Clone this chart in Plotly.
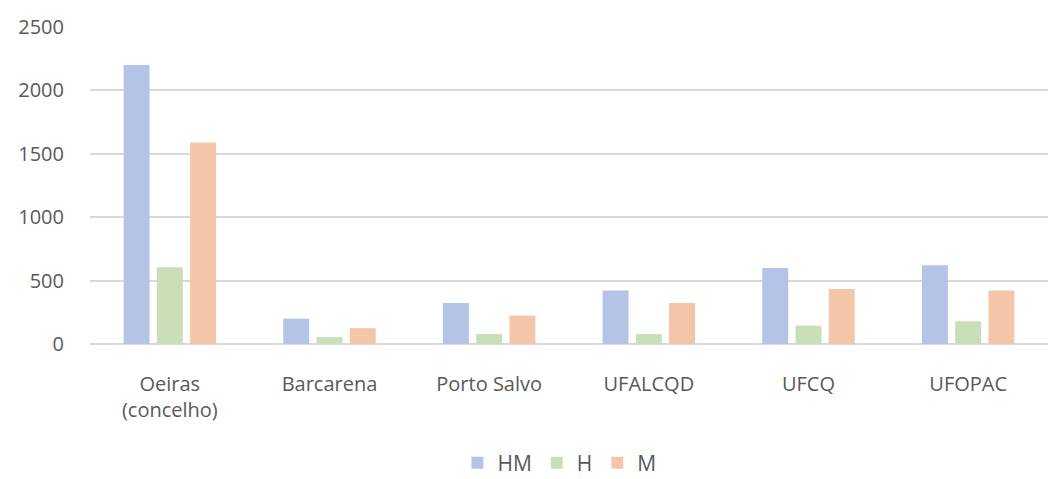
import plotly.graph_objects as go

categories = ["Oeiras<br>(concelho)", "Barcarena", "Porto Salvo", "UFALCQD", "UFCQ", "UFOPAC"]
hm = [2200, 200, 324, 421, 600, 621]
h = [605, 55, 79, 79, 145, 179]
m = [1590, 125, 224, 324, 434, 421]
y_ticks = [0, 500, 1000, 1500, 2000, 2500]

colors = {"HM": "#B4C3E6", "H": "#C9DFB8", "M": "#F4C6A8"}

fig = go.Figure()
for name, vals in [("HM", hm), ("H", h), ("M", m)]:
    fig.add_trace(go.Bar(
        x=categories, y=vals, name=name,
        marker=dict(color=colors[name], line=dict(width=0)),
    ))

fig.update_layout(
    width=1050, height=479,
    margin=dict(l=90, r=2, t=27, b=135, autoexpand=False),
    paper_bgcolor="white", plot_bgcolor="white",
    barmode="group", bargap=0.375, bargroupgap=0.22,
    font=dict(family="Open Sans, Noto Sans, sans-serif", size=20, color="#595959"),
    showlegend=True,
    legend=dict(orientation="h", x=0.49, xanchor="center", y=-0.44, yanchor="bottom",
                font=dict(size=21, color="#595959"), itemwidth=30, traceorder="normal",
                borderwidth=0, tracegroupgap=0),
    xaxis=dict(showgrid=False, showline=False, ticks="", tickfont=dict(size=20),
               automargin=False, ticklabelstandoff=26),
    yaxis=dict(range=[0, 2500], tickvals=y_ticks, showgrid=True, gridcolor="#D9D9D9",
               gridwidth=2, zeroline=True, zerolinecolor="#D9D9D9", zerolinewidth=2,
               showline=False, ticks="", ticklabelstandoff=25, tickfont=dict(size=20),
               automargin=False),
)

fig.write_html("out.html", config={"displayModeBar": False},
               post_script="document.body.style.margin='0';document.body.style.overflow='hidden';")
